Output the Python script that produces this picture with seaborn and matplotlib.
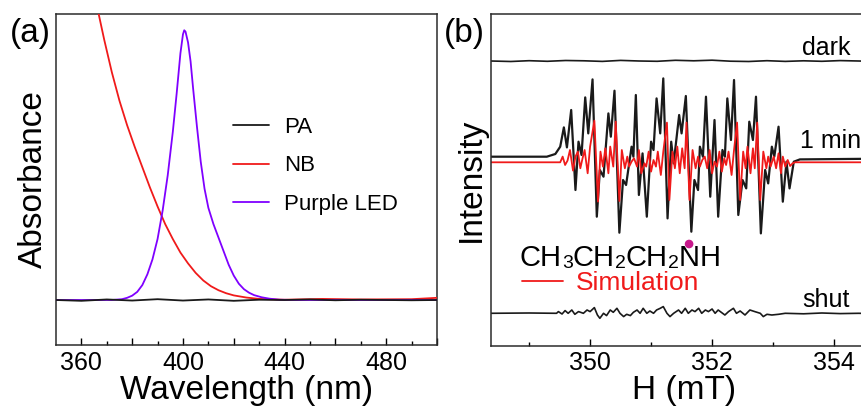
import numpy as np
import pandas as pd
import matplotlib
matplotlib.use('Agg')
import matplotlib.pyplot as plt
from matplotlib.offsetbox import DrawingArea, AnnotationBbox
from matplotlib.patches import Circle
import seaborn as sns

# ---- panel (a): absorbance spectra ----
pa_nm = [350, 360, 370, 380, 390, 400, 410, 420, 430, 440, 450, 460, 470, 480, 490, 500]
pa_abs = [0.0, -0.003, 0.002, -0.002, 0.003, -0.002, 0.002, -0.003, 0.001, 0.0, 0.002, -0.001, 0.001, 0.0, -0.001, 0.0]

nb_nm = [363, 366, 369, 372, 375, 378, 381, 384, 387, 390, 393, 396, 399, 402, 405, 408,
         411, 414, 417, 420, 425, 430, 440, 455, 470, 490, 500]
nb_abs = [1.23, 1.09, 0.96, 0.84, 0.735, 0.645, 0.565, 0.49, 0.415, 0.345, 0.28, 0.225, 0.175,
          0.135, 0.10, 0.072, 0.051, 0.036, 0.025, 0.017, 0.009, 0.004, 0.001, 0.004, 0.002, 0.003, 0.008]

led_nm = [350, 372, 376, 378, 380, 382, 384, 386, 388, 390, 392, 394, 396, 397.5, 399, 400,
          400.5, 401, 402, 403, 404, 405.5, 407, 408.5, 410, 412, 414, 416, 418, 420, 422,
          424, 426, 428, 431, 434, 438, 445, 500]
led_abs = [0, 0, 0.003, 0.008, 0.016, 0.03, 0.055, 0.095, 0.15, 0.225, 0.33, 0.46, 0.62, 0.76,
           0.91, 0.98, 0.995, 0.99, 0.95, 0.88, 0.78, 0.64, 0.51, 0.41, 0.34, 0.28, 0.23, 0.18,
           0.13, 0.09, 0.06, 0.04, 0.027, 0.018, 0.01, 0.005, 0.001, 0, 0]

wl_ticks = [360, 380, 400, 420, 440, 460, 480, 500]
wl_labels = ['360', '', '400', '', '440', '', '480', '']

# ---- panel (b): EPR spectra ----
dark_h = [348.37, 348.7, 349.0, 349.3, 349.6, 349.9, 350.2, 350.5, 350.8, 351.1, 351.4,
          351.7, 352.0, 352.3, 352.6, 352.9, 353.2, 353.5, 353.8, 354.1, 354.4, 354.72]
dark_i = [0, -0.5, 0.3, -0.3, 0.5, 0.2, -0.4, 0.6, 0, -0.3, 0.7,
          0.2, 0.8, -0.2, -0.5, 0.3, -0.4, 0.2, -0.3, 0.4, 0, -0.5]

min1_h = [348.37, 349.29, 349.43, 349.51, 349.57, 349.62, 349.69, 349.76, 349.81, 349.86, 349.92,
          349.97, 350.04, 350.11, 350.16, 350.22, 350.30, 350.34, 350.40, 350.48, 350.54, 350.59,
          350.68, 350.71, 350.75, 350.80, 350.86, 350.93, 351.00, 351.04, 351.09, 351.15, 351.20,
          351.27, 351.33, 351.37, 351.46, 351.50, 351.57, 351.66, 351.71, 351.77, 351.80, 351.85,
          351.90, 351.97, 352.04, 352.10, 352.17, 352.21, 352.25, 352.31, 352.36, 352.43, 352.50,
          352.56, 352.61, 352.67, 352.72, 352.80, 352.87, 352.92, 352.98, 353.02, 353.09, 353.16,
          353.22, 353.27, 353.34, 353.44, 354.72]
min1_i = [0, 0, 2.7, 10, 29.3, 9.3, 46.7, -33.3, 15, 1.7, 59.3,
          23.3, 77.3, -60, -13.3, -20, 43.3, 20, 66, -76, -23.3, -28.3,
          10, 0, 61.7, -38.3, 3.3, -60, 15, 6.7, 58.3, 23.3, 78.3,
          -61.7, 15, -6.7, 41.7, 23.3, 60.7, -75, -23.3, -33.3, 10, 0,
          60, -40, 36.7, -60, 6.7, 0, 58.3, 16.7, 76.7, -58.3, -23.3,
          -31.7, 35, 16.7, 60, -76.7, -13.3, -26.7, 10, 0, 30, -45,
          -5, -31.7, -5, -2.7, -2.0]

sim_h = [348.37, 349.51, 349.55, 349.59, 349.63, 349.67, 349.72, 349.76, 349.80, 349.84, 349.87,
         349.91, 349.96, 350.00, 350.07, 350.13, 350.17, 350.21, 350.25, 350.30, 350.33, 350.38,
         350.42, 350.48, 350.52, 350.57, 350.61, 350.64, 350.68, 350.72, 350.77, 350.80, 350.84,
         350.89, 350.92, 350.96, 351.00, 351.04, 351.08, 351.11, 351.16, 351.20, 351.26, 351.30,
         351.35, 351.39, 351.43, 351.47, 351.51, 351.55, 351.58, 351.63, 351.68, 351.73, 351.77,
         351.80, 351.84, 351.88, 351.92, 351.96, 352.00, 352.04, 352.08, 352.12, 352.16, 352.20,
         352.23, 352.27, 352.32, 352.36, 352.41, 352.46, 352.51, 352.55, 352.58, 352.63, 352.67,
         352.70, 352.74, 352.79, 352.84, 352.89, 352.92, 352.96, 353.01, 353.05, 353.09, 353.13,
         353.16, 353.20, 353.24, 353.28, 353.32, 353.36, 354.72]
sim_i = [0, 0, 5.7, -2.7, 1.7, 12.3, -8.3, 5.7, 10.7, -6, 2.3,
         12.3, -11, 15.7, 41.7, -39.3, 10.7, -4.3, 14, -11, 15.7, -4.3,
         40.7, -38.7, 12.3, -6, 5.7, -4.3, 0.7, 4, -4.3, 12.3, -11,
         -1, -4.3, 10.7, -9.3, 2.3, -4.3, 10.7, -12.7, 10.7, 39.7, -37.7,
         10.7, -6, 15.7, -11, 14, -6, 39.7, -37.7, 12.3, -6, 5.7,
         -4.3, 2.3, 5.7, -6, 12.3, -11, 0.7, -4.3, 10.7, -9.3, 4,
         -2.7, 10.7, -12.7, 12.3, 39.7, -37.7, 10.7, -6, 15.7, -11, 14,
         -6, 39.7, -37.7, 10.7, -6, 5.7, -4.3, 5.7, -6, 9, -11,
         5.7, -4.3, 2.3, -3.7, -1, 0, 0]

shut_h = [348.37, 349.00, 349.45, 349.48, 349.54, 349.59, 349.64, 349.70, 349.75, 349.81, 349.89,
          349.95, 350.00, 350.07, 350.12, 350.16, 350.22, 350.27, 350.33, 350.38, 350.44, 350.49,
          350.55, 350.60, 350.66, 350.71, 350.77, 350.82, 350.87, 350.93, 350.98, 351.04, 351.09,
          351.15, 351.20, 351.26, 351.31, 351.37, 351.45, 351.50, 351.56, 351.61, 351.67, 351.72,
          351.78, 351.83, 351.89, 351.94, 352.00, 352.05, 352.10, 352.21, 352.27, 352.35, 352.40,
          352.46, 352.54, 352.62, 352.70, 352.79, 352.84, 352.90, 352.98, 353.09, 353.20, 353.50,
          353.80, 354.10, 354.40, 354.72]
shut_i = [0, 0.3, 0, 1.7, -0.7, 2.7, 0, 3.3, -1, 1.7, 0,
          3.3, 1.7, 5.7, -1.7, -5, 0, -2.3, 3.3, 1, 5, 0,
          -3.3, -1, -2.3, 1, 3.3, 0, 5, 0, 2.3, 0, 3.3,
          5, 6.7, 0, -3.3, 0, 3.3, 0, 5, 0, 3.3, 1.7,
          5, 0, 3.3, 1.7, 4.3, 0, 3.3, -1.7, 1.7, 5, 0,
          2.3, -1.7, 3.3, 1.7, 0, -3.3, -1, -1.7, -1, 0, -0.5,
          0.3, -0.3, 0, -0.3]

# vertical offsets of the stacked traces
off_dark, off_min1, off_sim, off_shut = 284.7, 189.0, 183.4, 32.4

h_ticks = [350, 352, 354]
h_minor = [349, 351, 353]

# radical formula, written in pieces so the small digits sit on the baseline
formula = [('CH', 21), ('3', 14), ('CH', 21), ('2', 14), ('CH', 21), ('2', 14), ('N', 21), ('H', 21)]

sns.set_style('ticks')
plt.rcParams['font.family'] = ['Liberation Sans', 'DejaVu Sans']
plt.rcParams['text.color'] = 'black'
plt.rcParams['axes.labelcolor'] = 'black'
plt.rcParams['xtick.color'] = 'black'

fig = plt.figure(figsize=(8.61, 4.08), dpi=100)
ax1 = fig.add_axes([0.0650, 0.1544, 0.4425, 0.8113])
ax2 = fig.add_axes([0.5699, 0.1527, 0.4498, 0.8130])

black = '#1a1a1a'
red = '#f01a1a'
purple = '#7f00ff'

sns.lineplot(x=pa_nm, y=pa_abs, ax=ax1, color=black, lw=1.3, label='PA', estimator=None, zorder=4)
sns.lineplot(x=nb_nm, y=nb_abs, ax=ax1, color=red, lw=1.3, label='NB', estimator=None, zorder=3)
sns.lineplot(x=led_nm, y=led_abs, ax=ax1, color=purple, lw=1.3, label='Purple LED', estimator=None, zorder=3)

ax1.set_xlim(350, 500)
ax1.set_ylim(-0.166, 1.055)
ax1.set_xticks(wl_ticks, wl_labels)
ax1.set_xticks([370, 390, 410, 430, 450, 470, 490], minor=True)
ax1.set_yticks([])
ax1.set_xlabel('Wavelength (nm)', fontsize=24, labelpad=0)
ax1.set_ylabel('Absorbance', fontsize=24, labelpad=5)
ax1.legend(loc='upper left', bbox_to_anchor=(0.465, 0.69), frameon=False, fontsize=16,
           handlelength=1.6, handletextpad=0.7, labelspacing=0.8, borderpad=0, borderaxespad=0)

sns.lineplot(x=dark_h, y=np.array(dark_i) + off_dark, ax=ax2, color=black, lw=1.2, estimator=None)
sns.lineplot(x=min1_h, y=np.array(min1_i) + off_min1, ax=ax2, color=black, lw=1.6, estimator=None)
sns.lineplot(x=sim_h, y=np.array(sim_i) + off_sim, ax=ax2, color=red, lw=1.3, estimator=None,
             label='Simulation')
sns.lineplot(x=shut_h, y=np.array(shut_i) + off_shut, ax=ax2, color=black, lw=1.2, estimator=None)

ax2.set_xlim(348.37, 354.72)
ax2.set_ylim(0, 331.7)
ax2.set_xticks(h_ticks)
ax2.set_xticks(h_minor, minor=True)
ax2.set_yticks([])
ax2.set_xlabel('H (mT)', fontsize=24, labelpad=0)
ax2.set_ylabel('Intensity', fontsize=24, labelpad=3)
ax2.legend(loc='center left', bbox_to_anchor=(0.081, 0.189), frameon=False, fontsize=19,
           handlelength=1.55, handletextpad=0.5, borderpad=0, borderaxespad=0, labelcolor=red)

ax2.text(353.48, 290.7, 'dark', fontsize=18, va='baseline')
ax2.text(353.44, 197.7, '1 min', fontsize=18, va='baseline')
ax2.text(353.48, 38.7, 'shut', fontsize=18, va='baseline')

prev = ax2.text(348.85, 79.7, formula[0][0], fontsize=formula[0][1], va='baseline')
n_piece = None
for txt, size in formula[1:]:
    prev = ax2.annotate(txt, xy=(1, 0), xycoords=prev, fontsize=size, va='bottom')
    if txt == 'N':
        n_piece = prev

# radical dot over the N
dot = DrawingArea(6, 6, 0, 0)
dot.add_artist(Circle((3, 3), 2.6, color='#c8198c'))
ax2.add_artist(AnnotationBbox(dot, xy=(0.5, 1.0), xycoords=n_piece, box_alignment=(0.5, 0.5),
                              frameon=False, pad=0))

for ax in (ax1, ax2):
    for s in ax.spines.values():
        s.set_linewidth(1.1)
        s.set_color('#2b2b2b')
    ax.tick_params(axis='x', which='major', direction='in', length=5, width=1, labelsize=18, pad=4)
    ax.tick_params(axis='x', which='minor', direction='in', length=3, width=1)

fig.text(0.012, 0.955, '(a)', fontsize=24, va='top')
fig.text(0.515, 0.955, '(b)', fontsize=24, va='top')

fig.savefig('out.png', dpi=100)
